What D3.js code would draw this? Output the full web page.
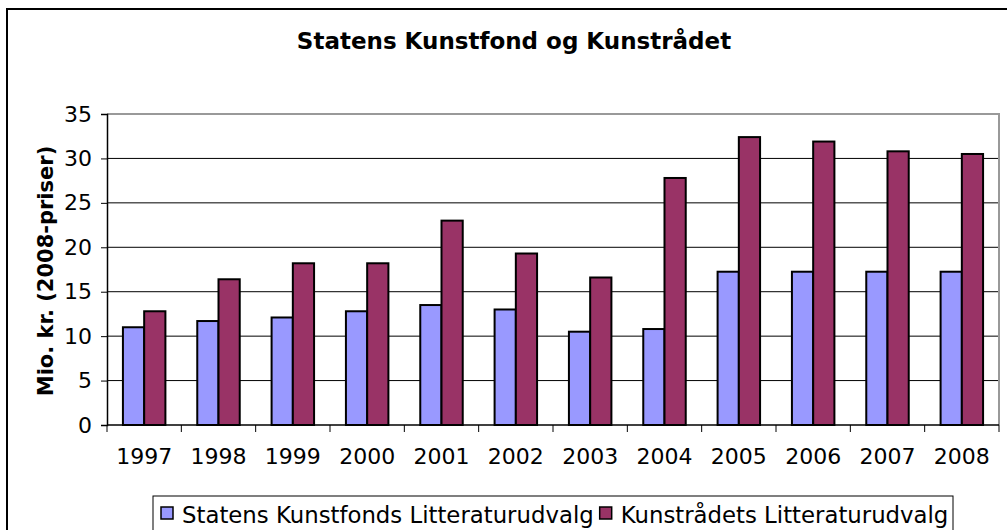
<!DOCTYPE html>
<html lang="da">
<head>
<meta charset="UTF-8">
<title>Statens Kunstfond og Kunstrådet</title>
<script src="https://d3js.org/d3.v7.min.js"></script>
<style>
  body { margin: 0; background: #fff; }
  svg { display: block; font-family: "DejaVu Sans", Verdana, sans-serif; }
</style>
</head>
<body>
<svg id="chart" width="1007" height="530"></svg>
<script>
// data
let years = ["1997", "1998", "1999", "2000", "2001", "2002", "2003", "2004", "2005", "2006", "2007", "2008"];
let seriesNames = ["Statens Kunstfonds Litteraturudvalg", "Kunstrådets Litteraturudvalg"];
let kunstfond = [11.0, 11.7, 12.1, 12.8, 13.5, 13.0, 10.5, 10.8, 17.25, 17.25, 17.25, 17.25];
let kunstraad = [12.8, 16.4, 18.2, 18.2, 23.0, 19.3, 16.6, 27.8, 32.4, 31.9, 30.8, 30.5];
let yTicks = [0, 5, 10, 15, 20, 25, 30, 35];
let colors = ["#9999ff", "#993366"];

let svg = d3.select("#chart");
let plot = { left: 107, right: 999, top: 114, bottom: 425 };

// outer chart frame (runs off right/bottom edge like the reference)
svg.append("rect")
    .attr("x", 7).attr("y", 9)
    .attr("width", 1010).attr("height", 540)
    .attr("fill", "#fff").attr("stroke", "#000").attr("stroke-width", 2);

svg.append("text")
    .attr("x", 514).attr("y", 49)
    .attr("text-anchor", "middle")
    .attr("font-weight", "bold")
    .attr("font-size", 23)
    .text("Statens Kunstfond og Kunstrådet");

let x0 = d3.scaleBand().domain(years).range([plot.left, plot.right]).padding(0);
let cw = x0.bandwidth();
let half = cw * 0.75 / 3.5;   // 150% gap width
let x1 = d3.scaleBand().domain([0, 1]).range([half, cw - half]).padding(0);
let y = d3.scaleLinear().domain([0, 35]).range([plot.bottom, plot.top]);

// grid lines
svg.append("g").selectAll("line")
    .data(yTicks.filter(t => t > 0 && t < 35))
    .enter().append("line")
    .attr("x1", plot.left).attr("x2", plot.right)
    .attr("y1", d => y(d)).attr("y2", d => y(d))
    .attr("stroke", "#000").attr("stroke-width", 1);

// plot area border (top + right), grey
svg.append("path")
    .attr("d", `M${plot.left},${y(35)}H${plot.right}V${plot.bottom}`)
    .attr("fill", "none").attr("stroke", "#999").attr("stroke-width", 2);

// bars
let groups = svg.append("g").selectAll("g")
    .data(years)
    .enter().append("g")
    .attr("transform", d => `translate(${x0(d)},0)`);

groups.selectAll("rect")
    .data((d, i) => [kunstfond[i], kunstraad[i]])
    .enter().append("rect")
    .attr("x", (d, j) => x1(j))
    .attr("width", x1.bandwidth())
    .attr("y", d => y(d))
    .attr("height", d => y(0) - y(d))
    .attr("fill", (d, j) => colors[j])
    .attr("stroke", "#000").attr("stroke-width", 2);

// y axis
let yAxis = svg.append("g")
    .attr("transform", `translate(${plot.left},0)`)
    .call(d3.axisLeft(y).tickValues(yTicks).tickSize(6).tickPadding(9));
yAxis.select(".domain").attr("stroke", "#000").attr("stroke-width", 1.5);
yAxis.selectAll("text").attr("font-size", 22).attr("font-family", "DejaVu Sans").attr("fill", "#000");

// x axis: ticks between categories
let xAxis = svg.append("g").attr("transform", `translate(0,${plot.bottom})`);
xAxis.append("line")
    .attr("x1", plot.left).attr("x2", plot.right)
    .attr("stroke", "#000").attr("stroke-width", 1.5);
xAxis.selectAll(".tk")
    .data(years.concat(["end"]))
    .enter().append("line")
    .attr("class", "tk")
    .attr("x1", (d, i) => plot.left + i * cw).attr("x2", (d, i) => plot.left + i * cw)
    .attr("y1", 0).attr("y2", 7)
    .attr("stroke", "#000").attr("stroke-width", 1);
xAxis.selectAll("text")
    .data(years)
    .enter().append("text")
    .attr("x", d => x0(d) + cw / 2)
    .attr("y", 39)
    .attr("text-anchor", "middle")
    .attr("font-size", 22)
    .text(d => d);

// y axis title
svg.append("text")
    .attr("transform", "translate(53,271) rotate(-90)")
    .attr("text-anchor", "middle")
    .attr("font-weight", "bold")
    .attr("font-size", 21)
    .text("Mio. kr. (2008-priser)");

// legend
let legend = svg.append("g");
legend.append("rect")
    .attr("x", 153).attr("y", 496)
    .attr("width", 800).attr("height", 60)
    .attr("fill", "#fff").attr("stroke", "#000").attr("stroke-width", 1);

let lx = 161;
seriesNames.forEach((name, i) => {
    legend.append("rect")
        .attr("x", lx).attr("y", 507)
        .attr("width", 12).attr("height", 12)
        .attr("fill", colors[i]).attr("stroke", "#000").attr("stroke-width", 1.5);
    let t = legend.append("text")
        .attr("x", lx + 21).attr("y", 523)
        .attr("font-size", 22.8)
        .text(name);
    lx = lx + 21 + t.node().getComputedTextLength() + 6;
});
</script>
</body>
</html>
